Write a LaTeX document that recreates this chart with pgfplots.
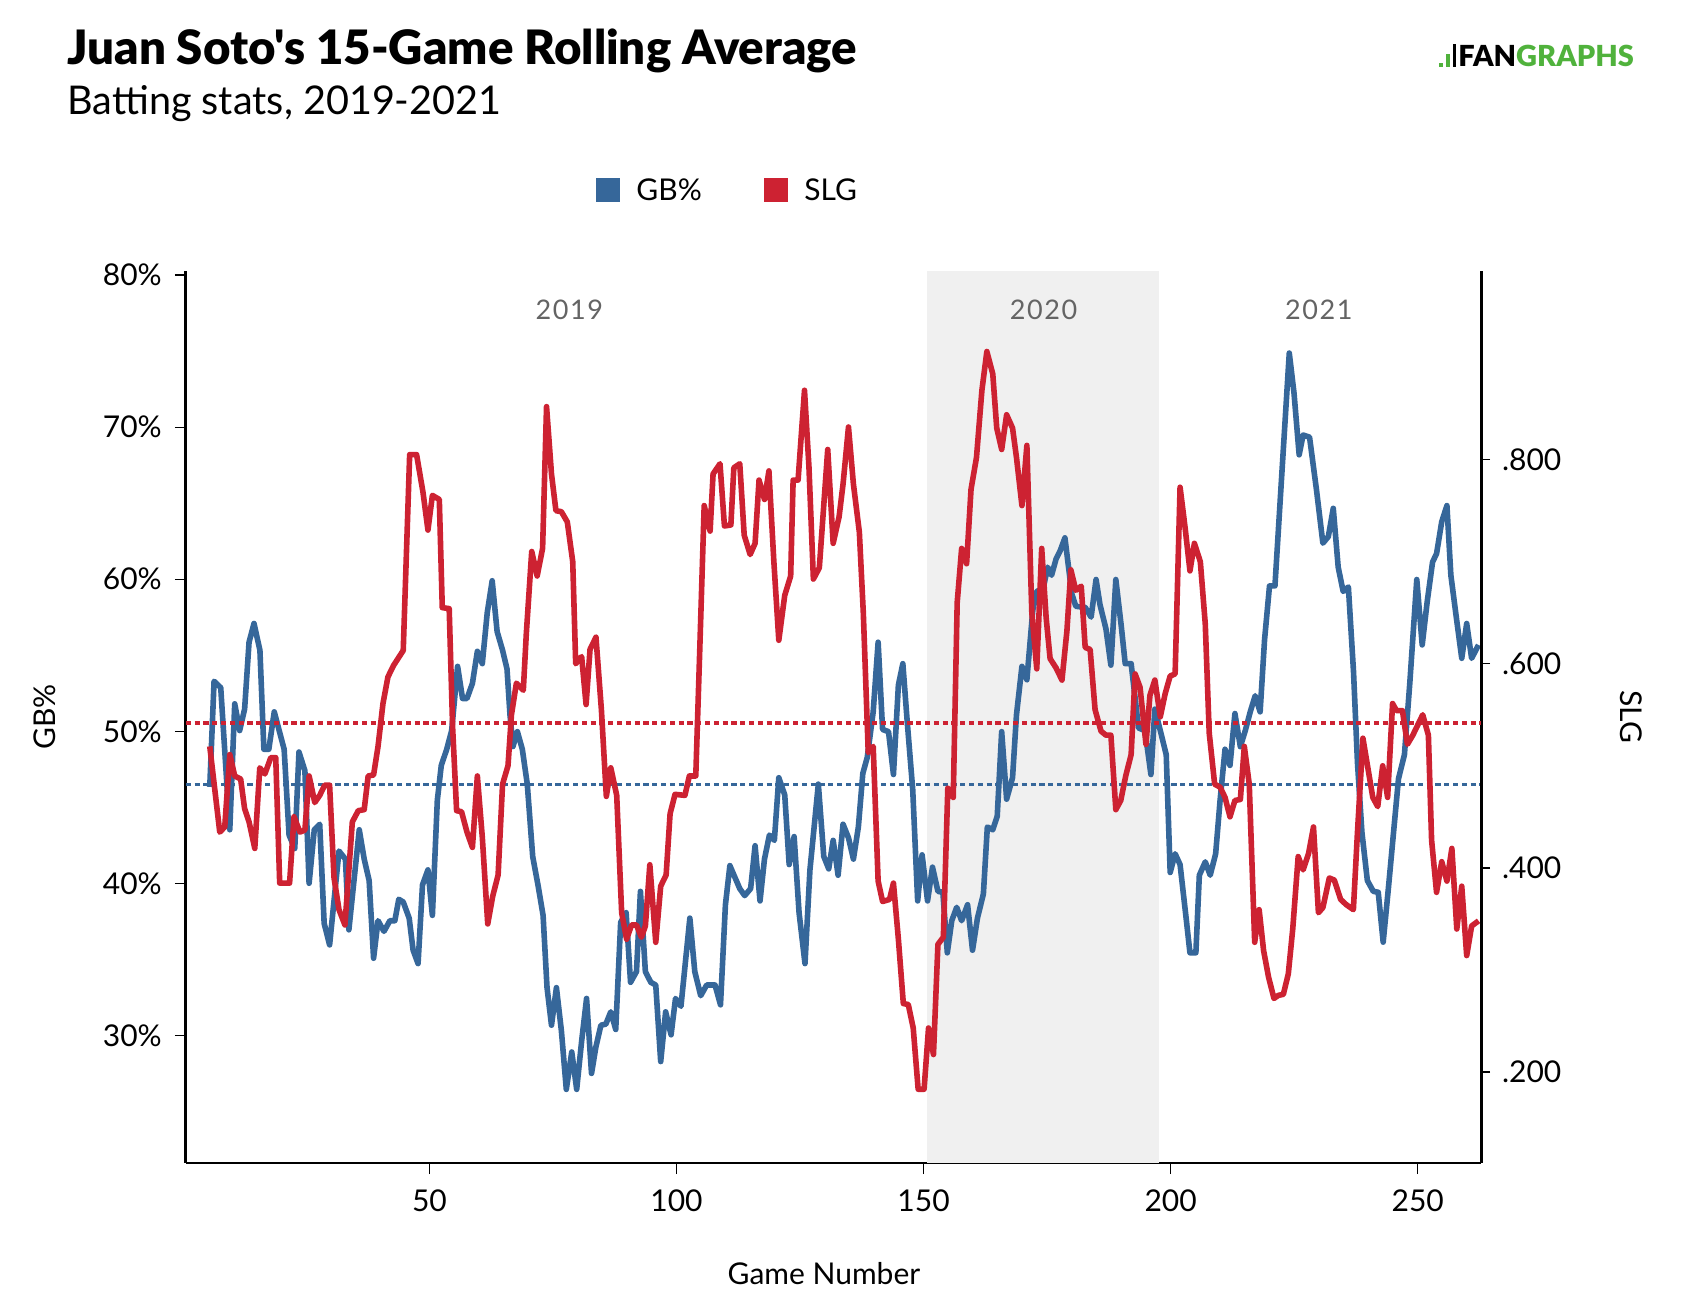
\documentclass[border=0pt]{standalone}
\usepackage{fontspec}
\setmainfont{Lato}
\IfFontExistsTF{Lato Black}{\newfontface\titlefont{Lato Black}}{\newfontface\titlefont{Lato}[UprightFont=*-Bold]}
\usepackage{pgfplots}
\pgfplotsset{compat=1.18}
\usepackage{pgfplotstable}
\definecolor{gbblue}{RGB}{54,103,154}
\definecolor{slgred}{RGB}{205,34,50}
\definecolor{shade}{RGB}{240,240,240}
\definecolor{fggreen}{RGB}{80,178,60}
\definecolor{yeargray}{RGB}{100,100,100}

\pgfplotstableread{
g v
5.55 46.35
6.42 53.29
7.77 52.87
9.6 43.53
10.6 51.81
11.6 50.05
12.6 51.46
13.5 55.86
14.5 57.09
15.7 55.33
16.5 48.82
17.5 48.82
18.6 51.28
20.6 48.82
21.6 43.18
22.75 42.3
23.6 48.64
24.8 47.41
25.65 40.01
26.7 43.53
27.8 43.89
28.7 37.37
29.8 35.96
31.7 42.13
33.0 41.6
33.7 36.95
35.8 43.53
36.8 41.6
37.8 40.19
38.7 35.08
39.6 37.55
40.8 36.85
42.0 37.55
43.0 37.55
43.8 38.96
44.7 38.78
45.9 37.72
46.7 35.61
47.7 34.73
48.6 39.91
49.7 40.89
50.6 37.9
51.6 45.47
52.4 47.76
53.5 48.82
54.5 50.05
55.7 54.27
56.7 52.16
57.6 52.16
58.7 53.15
59.7 55.26
60.7 54.45
61.7 57.8
62.7 59.9
63.7 56.56
64.8 55.33
65.7 54.1
66.3 51.1
66.9 49.0
67.8 49.98
68.8 48.82
69.8 46.53
70.9 41.77
72.0 39.84
73.0 37.9
73.8 33.15
74.7 30.68
75.7 33.15
76.7 30.33
77.7 26.46
78.8 28.92
79.8 26.46
80.8 29.63
81.8 32.44
82.8 27.51
83.7 29.27
84.7 30.68
85.7 30.75
86.7 31.56
87.7 30.4
88.7 37.44
89.8 38.08
90.7 33.5
91.9 34.2
92.7 39.48
93.7 34.2
94.8 33.5
95.8 33.32
96.8 28.29
97.8 31.56
98.9 30.05
99.8 32.44
100.9 31.92
102.7 37.72
103.7 34.2
104.9 32.62
106.1 33.32
107.8 33.32
108.9 32.02
109.9 38.6
110.8 41.17
112.8 39.66
113.8 39.2
115.0 39.66
115.9 42.48
116.9 38.85
117.8 41.6
118.8 43.18
119.8 42.83
120.7 46.95
121.9 45.82
122.8 41.24
123.8 43.08
124.8 38.08
126.0 34.73
127.0 40.89
128.7 46.53
129.8 41.77
130.8 40.96
131.7 42.83
132.7 40.54
133.7 43.89
134.8 43.0
135.8 41.6
136.8 43.71
137.7 47.23
138.6 48.29
139.8 51.28
140.8 55.86
141.7 50.12
142.9 49.98
143.9 47.16
144.9 53.04
145.8 54.45
146.7 50.58
147.8 46.17
148.8 38.85
149.7 41.88
150.8 38.85
151.8 41.07
152.9 39.48
153.9 39.42
154.8 35.44
155.7 37.55
156.7 38.43
157.7 37.55
158.9 38.6
159.9 35.61
160.9 37.72
162.1 39.31
162.9 43.71
164.0 43.53
164.9 44.41
165.8 49.98
166.8 45.54
168.0 46.95
168.8 51.1
169.9 54.27
170.9 53.39
172.1 57.97
172.9 59.2
174.2 59.38
175.1 60.79
175.9 60.26
176.8 61.32
177.6 61.84
178.6 62.72
180.0 59.03
180.8 58.22
182.7 58.15
183.9 57.51
184.9 59.98
185.7 58.32
186.9 56.74
187.9 54.35
188.9 59.98
190.0 56.92
190.8 54.45
192.0 54.45
193.5 50.22
194.8 50.05
196.0 47.16
196.8 51.46
197.9 50.05
199.1 48.46
199.9 40.72
200.9 41.95
201.9 41.24
203.0 38.08
203.9 35.44
205.1 35.44
205.8 40.54
207.0 41.42
208.0 40.54
209.1 41.95
210.0 45.47
211.0 48.82
212.0 47.76
213.0 51.17
214.1 48.99
215.1 50.05
216.1 51.28
217.1 52.34
218.1 51.28
219.0 56.03
220.0 59.56
221.1 59.56
222.6 67.5
224.0 74.87
224.96 72.23
226.0 68.18
226.8 69.48
228.1 69.34
229.5 65.89
230.8 62.37
231.9 62.8
232.9 64.66
233.9 60.79
234.9 59.2
235.96 59.49
237.0 53.92
237.8 47.94
238.7 43.36
239.8 40.19
241.0 39.48
242.0 39.42
243.0 36.14
244.05 39.66
245.1 43.36
246.1 46.88
247.3 48.46
248.4 53.22
249.8 59.98
250.9 55.68
251.9 58.5
253.0 61.14
253.8 61.67
254.85 63.78
255.9 64.84
256.7 60.26
257.75 57.62
258.9 54.8
259.9 57.09
260.9 54.8
262.3 55.68
}\gbdata

\pgfplotstableread{
g v
5.55 .519
7.57 .435
8.58 .440
9.6 .511
10.6 .490
11.8 .487
12.6 .458
13.5 .445
14.66 .419
15.67 .498
16.7 .492
17.9 .508
18.9 .508
19.7 .385
21.7 .385
22.6 .450
23.8 .435
24.8 .437
25.65 .490
26.8 .464
27.8 .471
28.8 .481
29.8 .481
30.7 .390
31.7 .359
32.9 .344
34.4 .445
35.6 .456
36.8 .457
37.6 .490
38.7 .491
39.6 .519
40.6 .561
41.6 .587
42.7 .598
44.7 .613
46.0 .805
47.4 .805
48.7 .768
49.7 .731
50.6 .765
52.0 .761
52.6 .655
54.0 .654
54.7 .537
55.5 .456
56.5 .455
57.6 .435
58.7 .420
59.7 .490
60.7 .430
61.8 .345
62.8 .372
63.9 .393
64.8 .482
65.9 .500
66.6 .550
67.6 .581
69.0 .574
69.6 .629
70.7 .710
71.8 .686
72.9 .713
73.7 .852
74.7 .786
75.6 .750
76.7 .749
77.9 .739
79.0 .700
79.6 .600
80.8 .607
81.7 .560
82.5 .614
83.7 .626
84.8 .555
85.8 .470
86.7 .498
87.9 .471
88.9 .356
89.9 .330
90.9 .344
91.9 .344
92.9 .332
93.7 .343
94.6 .403
95.8 .327
96.8 .382
97.9 .393
98.7 .453
99.7 .472
101.7 .471
102.6 .490
103.9 .490
104.7 .613
105.6 .755
106.8 .730
107.4 .786
108.8 .796
109.7 .735
111.0 .736
111.6 .792
112.8 .796
113.7 .726
114.9 .707
115.9 .718
116.7 .780
117.8 .761
118.7 .789
119.7 .700
120.7 .623
121.9 .667
123.1 .686
123.6 .780
124.6 .780
125.9 .868
126.8 .793
127.7 .683
128.9 .694
130.6 .810
131.7 .718
132.9 .744
133.7 .776
134.8 .832
135.8 .776
137.0 .729
137.8 .650
138.8 .513
139.8 .519
140.8 .387
141.7 .367
143.1 .369
143.9 .385
144.9 .330
145.9 .267
146.9 .266
147.9 .243
148.9 .183
150.1 .183
151.0 .243
152.0 .217
152.9 .325
154.0 .332
154.9 .478
156.0 .469
156.8 .660
157.7 .713
158.7 .698
159.6 .771
160.7 .802
161.8 .868
162.8 .906
164.0 .884
164.8 .831
165.8 .810
166.8 .844
168.0 .831
168.8 .802
169.9 .755
170.9 .814
171.9 .650
172.9 .595
173.9 .713
174.8 .645
175.6 .605
176.8 .596
178.0 .584
179.0 .632
179.8 .692
180.8 .672
181.9 .676
182.7 .616
183.7 .614
184.7 .555
185.9 .534
186.9 .530
187.9 .530
188.9 .457
189.9 .466
190.9 .490
192.0 .511
192.8 .590
193.8 .577
195.0 .521
195.8 .569
196.8 .584
197.9 .548
198.9 .571
199.9 .588
200.9 .590
201.9 .773
202.9 .734
203.9 .691
204.8 .718
206.0 .700
207.0 .639
207.8 .532
208.9 .482
210.0 .479
211.0 .469
212.0 .450
213.0 .466
214.1 .467
214.9 .519
215.9 .482
217.0 .327
217.9 .359
218.8 .319
219.8 .293
220.9 .272
221.8 .275
222.8 .276
223.8 .296
224.7 .340
225.8 .411
226.8 .398
227.9 .414
228.9 .440
229.9 .356
230.8 .361
232.1 .390
233.1 .388
234.4 .369
235.5 .364
236.97 .359
237.8 .435
238.9 .527
239.9 .498
240.9 .469
241.9 .460
242.9 .500
243.9 .469
244.9 .561
245.7 .554
246.9 .554
247.9 .521
249.0 .530
250.0 .540
251.0 .550
252.15 .530
252.8 .427
253.8 .376
254.85 .406
255.9 .387
256.9 .419
257.9 .340
258.9 .382
259.9 .314
260.9 .343
262.3 .348
}\slgdata

\begin{document}
\begin{tikzpicture}
\path[use as bounding box] (0,0) rectangle (842pt,646pt);

% titles
\node[anchor=base west, inner sep=0] at (33.5pt,613.5pt) {\fontsize{23.7}{28}\selectfont\titlefont Juan Soto\char"0027 s 15-Game Rolling Average};
\node[anchor=base west, inner sep=0] at (33.5pt,588.5pt) {\fontsize{19.8}{24}\selectfont Batting stats, 2019-2021};

% logo
\fill[fggreen] (719.5pt,612.5pt) rectangle (721.5pt,614.5pt);
\fill[fggreen] (723pt,612.5pt) rectangle (725pt,619pt);
\fill[black] (726.3pt,612.5pt) rectangle (728pt,624pt);
\node[anchor=base west, inner sep=0] at (729pt,612.5pt) {\fontsize{14.5}{18}\selectfont\titlefont FAN\textcolor{fggreen}{GRAPHS}};

% legend
\fill[gbblue] (298pt,545pt) rectangle (310pt,557pt);
\node[anchor=west, inner sep=0] at (318pt,551pt) {\fontsize{15}{18}\selectfont GB\%};
\fill[slgred] (382pt,545pt) rectangle (394pt,557pt);
\node[anchor=west, inner sep=0] at (402pt,551pt) {\fontsize{15}{18}\selectfont SLG};

\begin{axis}[
  at={(92.9pt,64.5pt)}, anchor=south west,
  scale only axis, width=647.6pt, height=446.2pt,
  xmin=0.7, xmax=262.8, ymin=21.62, ymax=80.29,
  axis x line*=bottom, axis y line*=left,
  axis line style={line width=1.4pt, black},
  xtick={50,100,150,200,250}, ytick={30,40,50,60,70,80},
  /pgf/number format/assume math mode=true,
  yticklabel={\pgfmathprintnumber{\tick}\%},
  ticklabel style={font=\fontsize{15}{18}\selectfont},
  xticklabel style={yshift=-4.5pt},
  yticklabel style={xshift=-3pt},
  tick style={black, line width=0.6pt},
  major tick length=5.5pt,
  tick align=outside,
  xlabel={Game Number},
  ylabel={GB\%},
  label style={font=\fontsize{15}{18}\selectfont},
  xlabel style={at={(axis description cs:0.4927,-0.1244)}, anchor=center},
  ylabel style={at={(axis description cs:-0.1089,0.5)}, anchor=center},
]
\addplot[fill=shade, draw=none] coordinates {(150.7,21.62) (150.7,80.29) (197.7,80.29) (197.7,21.62)} -- cycle;
\addplot[gbblue, line width=1.7pt, dash pattern=on 2.6pt off 1.8pt] coordinates {(0.7,46.5) (262.8,46.5)};
\addplot[gbblue, line width=2.8pt, line join=round] table[x=g, y=v] {\gbdata};
\node[font=\fontsize{13.5}{16}\selectfont\addfontfeatures{LetterSpace=6}, text=yeargray] at (axis cs:78.3,77.7) {2019};
\node[font=\fontsize{13.5}{16}\selectfont\addfontfeatures{LetterSpace=6}, text=yeargray] at (axis cs:174.3,77.7) {2020};
\node[font=\fontsize{13.5}{16}\selectfont\addfontfeatures{LetterSpace=6}, text=yeargray] at (axis cs:230,77.7) {2021};
\end{axis}

\begin{axis}[
  at={(92.9pt,64.5pt)}, anchor=south west,
  scale only axis, width=647.6pt, height=446.2pt,
  xmin=0.7, xmax=262.8, ymin=0.1107, ymax=0.9853,
  axis x line=none, axis y line*=right,
  axis line style={line width=1.5pt, black},
  ytick={0.2,0.4,0.6,0.8},
  scaled y ticks=false,
  /pgf/number format/assume math mode=true,
  yticklabel style={xshift=2.5pt, /pgf/number format/.cd, fixed, fixed zerofill, precision=3, skip 0.},
  ticklabel style={font=\fontsize{15}{18}\selectfont},
  tick style={black, line width=0.7pt},
  major tick length=4.5pt,
  tick align=outside,
  ylabel={SLG},
  label style={font=\fontsize{15}{18}\selectfont},
  ylabel style={at={(axis description cs:1.1158,0.5)}, anchor=center, rotate=180},
]
\addplot[slgred, line width=1.7pt, dash pattern=on 2.6pt off 1.8pt] coordinates {(0.7,0.542) (262.8,0.542)};
\addplot[slgred, line width=2.8pt, line join=round] table[x=g, y=v] {\slgdata};
\end{axis}
\end{tikzpicture}
\end{document}
